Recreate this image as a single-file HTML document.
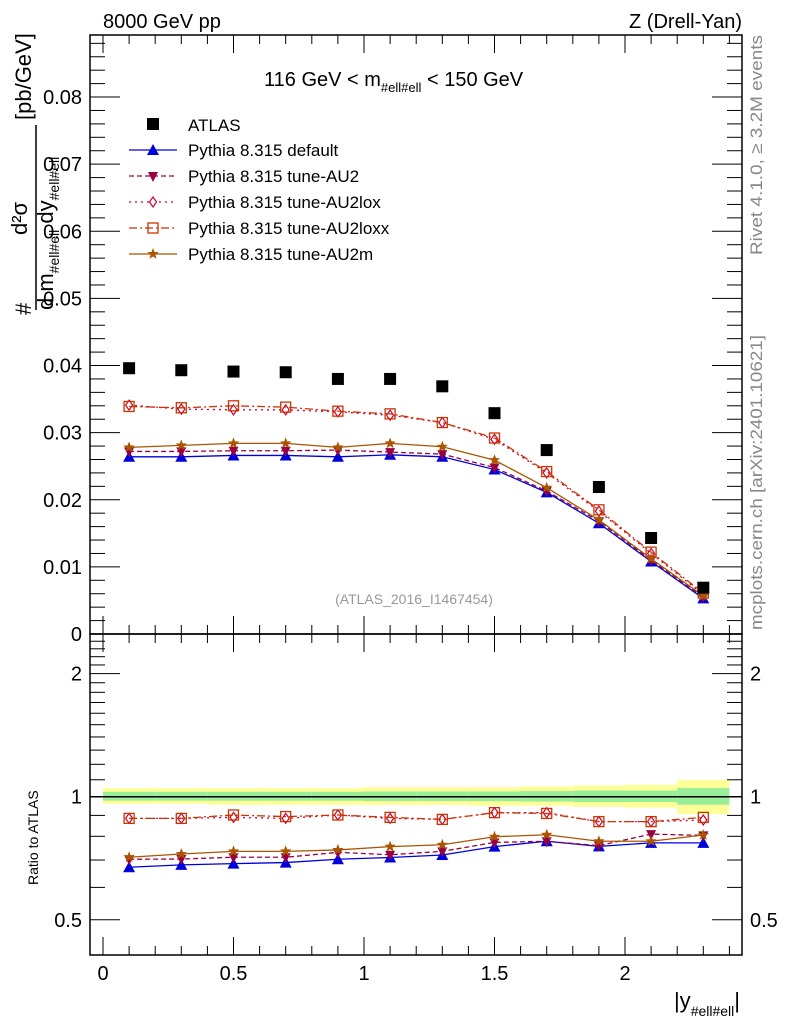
<!DOCTYPE html>
<html><head><meta charset="utf-8"><style>
body{margin:0;background:#fff;}
svg{display:block;font-family:"Liberation Sans",sans-serif;}
</style></head><body>
<svg id="chart" width="786" height="1024" viewBox="0 0 786 1024">
<rect width="786" height="1024" fill="#fff"/>
<g id="bands"></g>
<g id="axes"></g>
<g id="series"></g>
<text x="103" y="28" font-size="20">8000 GeV pp</text>
<text x="742" y="28" font-size="20" text-anchor="end">Z (Drell-Yan)</text>
<text x="264" y="86" font-size="20">116 GeV &lt; m<tspan font-size="13" dy="6">#ell#ell</tspan><tspan dy="-6"> &lt; 150 GeV</tspan></text>
<text x="414" y="604" font-size="14" fill="#999" text-anchor="middle">(ATLAS_2016_I1467454)</text>
<text transform="translate(762,255) rotate(-90)" font-size="17" fill="#888" textLength="220" lengthAdjust="spacingAndGlyphs">Rivet 4.1.0, ≥ 3.2M events</text>
<text transform="translate(762,630) rotate(-90)" font-size="17" fill="#888" textLength="295" lengthAdjust="spacingAndGlyphs">mcplots.cern.ch [arXiv:2401.10621]</text>
<g>
<text transform="translate(31,315) rotate(-90)" font-size="22">#</text>
<text transform="translate(27,235) rotate(-90)" font-size="22">d²σ</text>
<line x1="36" y1="125" x2="36" y2="310" stroke="#000" stroke-width="1.5"/>
<text transform="translate(53,310) rotate(-90)" font-size="22">d m<tspan font-size="14" dy="6">#ell#ell</tspan><tspan dy="-6"> dy</tspan><tspan font-size="14" dy="6">#ell#ell</tspan></text>
<text transform="translate(31,120) rotate(-90)" font-size="22">[pb/GeV]</text>
</g>
<text transform="translate(38,885) rotate(-90)" font-size="14">Ratio to ATLAS</text>
<text x="740" y="1008" font-size="22" text-anchor="end">|y<tspan font-size="14" dy="8">#ell#ell</tspan><tspan dy="-8">|</tspan></text>
<g id="legend"></g>
</svg>
<script>
const xCenters=[0.1,0.3,0.5,0.7,0.9,1.1,1.3,1.5,1.7,1.9,2.1,2.3];
const atlas=[0.0396,0.0393,0.0391,0.0390,0.0380,0.0380,0.0369,0.0329,0.0274,0.0219,0.0143,0.0069];
const pDefault=[0.0264,0.0264,0.0266,0.0266,0.0264,0.0267,0.0264,0.0245,0.0211,0.0165,0.0108,0.0053];
const pAU2=[0.0272,0.0272,0.0273,0.0273,0.0274,0.0271,0.0268,0.0248,0.0213,0.0168,0.0110,0.0055];
const pAU2lox=[0.0341,0.0335,0.0334,0.0334,0.0331,0.0326,0.0315,0.0290,0.0240,0.0183,0.0120,0.0059];
const pAU2loxx=[0.0339,0.0337,0.0340,0.0338,0.0332,0.0328,0.0315,0.0292,0.0242,0.0185,0.0122,0.0061];
const pAU2m=[0.0278,0.0281,0.0284,0.0284,0.0278,0.0284,0.0279,0.0259,0.0218,0.0170,0.0112,0.0057];
const rDefault=[0.672,0.681,0.686,0.690,0.703,0.710,0.720,0.755,0.778,0.756,0.771,0.771];
const rAU2=[0.703,0.704,0.711,0.711,0.731,0.721,0.735,0.773,0.778,0.759,0.810,0.804];
const rAU2lox=[0.885,0.885,0.890,0.885,0.902,0.885,0.880,0.914,0.914,0.869,0.869,0.877];
const rAU2loxx=[0.885,0.885,0.902,0.894,0.902,0.890,0.880,0.914,0.910,0.869,0.869,0.890];
const rAU2m=[0.711,0.724,0.735,0.735,0.741,0.755,0.763,0.798,0.807,0.778,0.778,0.806];
const yellowUp=[1.05,1.05,1.05,1.05,1.05,1.055,1.055,1.055,1.06,1.065,1.07,1.10];
const yellowDn=[0.96,0.96,0.955,0.955,0.955,0.955,0.955,0.95,0.95,0.945,0.94,0.907];
const greenUp=[1.028,1.028,1.028,1.028,1.028,1.03,1.03,1.03,1.032,1.035,1.035,1.05];
const greenDn=[0.978,0.978,0.978,0.978,0.978,0.976,0.976,0.975,0.973,0.97,0.97,0.956];
const xTicks=[0,0.5,1,1.5,2];
const xTickLabels=["0","0.5","1","1.5","2"];
const yTicks=[0,0.01,0.02,0.03,0.04,0.05,0.06,0.07,0.08];
const yTickLabels=["0","0.01","0.02","0.03","0.04","0.05","0.06","0.07","0.08"];
const rTicks=[0.5,1,2];
const rTickLabels=["0.5","1","2"];

const NS="http://www.w3.org/2000/svg";
const L=90,R=742,T=35,MB=634,RB=955;
const X=v=>103+(v)*261;
const Y=v=>634-v*6712;
const RMIN=Math.log10(0.41),RMAX=Math.log10(2.5);
const RY=v=>RB-(Math.log10(v)-RMIN)/(RMAX-RMIN)*(RB-MB);
function el(tag,attrs,parent){const e=document.createElementNS(NS,tag);for(const k in attrs)e.setAttribute(k,attrs[k]);parent.appendChild(e);return e;}
const axes=document.getElementById('axes'),bands=document.getElementById('bands'),ser=document.getElementById('series');

xCenters.forEach((c,i)=>{
  const x0=X(c-0.1),x1=X(c+0.1);
  const y=el('rect',{x:x0,y:RY(yellowUp[i]),width:x1-x0,height:RY(yellowDn[i])-RY(yellowUp[i]),fill:'#ffff99'},bands);
  
  
  const g=el('rect',{x:x0,y:RY(greenUp[i]),width:x1-x0,height:RY(greenDn[i])-RY(greenUp[i]),fill:'#99ee99'},bands);
  
  
});
const one=el('line',{x1:L,x2:R,y1:RY(1),y2:RY(1),stroke:'#000','stroke-width':1.5},bands);



const f1=el('rect',{x:L,y:T,width:R-L,height:MB-T,fill:'none',stroke:'#000','stroke-width':1.5},axes);


const f2=el('rect',{x:L,y:MB,width:R-L,height:RB-MB,fill:'none',stroke:'#000','stroke-width':1.5},axes);



for(let v=0;v<=2.45;v+=0.1){
  const major=Math.abs(v/0.5-Math.round(v/0.5))<1e-6;const len=major?18:9;
  [[MB,-1],[T,1],[RB,-1],[MB,1]].forEach(([y,d])=>{el('line',{x1:X(v),x2:X(v),y1:y,y2:y+d*len,stroke:'#000'},axes);});
}
xTicks.forEach((v,i)=>{const t=el('text',{x:X(v),y:980,'font-size':20,'text-anchor':'middle'},axes);t.textContent=xTickLabels[i];

});
for(let v=0;v<=0.0885;v+=0.002){
  const major=Math.abs(v/0.01-Math.round(v/0.01))<1e-6;const len=major?30:15;
  el('line',{x1:L,x2:L+len,y1:Y(v),y2:Y(v),stroke:'#000'},axes);
  el('line',{x1:R,x2:R-len,y1:Y(v),y2:Y(v),stroke:'#000'},axes);
}
yTicks.forEach((v,i)=>{const t=el('text',{x:82,y:Y(v)+7,'font-size':20,'text-anchor':'end'},axes);t.textContent=yTickLabels[i];

});
[0.5,0.6,0.7,0.8,0.9,1,1.1,1.2,1.3,1.4,1.5,1.6,1.7,1.8,1.9,2,2.1,2.2,2.3,2.4].forEach(v=>{
  const major=rTicks.includes(v);const len=major?30:15;
  el('line',{x1:L,x2:L+len,y1:RY(v),y2:RY(v),stroke:'#000'},axes);
  el('line',{x1:R,x2:R-len,y1:RY(v),y2:RY(v),stroke:'#000'},axes);
});
rTicks.forEach((v,i)=>{
  const t=el('text',{x:82,y:RY(v)+7,'font-size':20,'text-anchor':'end'},axes);t.textContent=rTickLabels[i];
  
  
  const t2=el('text',{x:750,y:RY(v)+7,'font-size':20},axes);t2.textContent=rTickLabels[i];
  
  
});

function marker(type,x,y,color,parent){
  if(type==='square')return el('rect',{x:x-6,y:y-6,width:12,height:12,fill:'#000'},parent);
  if(type==='tri')return el('polygon',{points:`${x},${y-6} ${x-6},${y+5} ${x+6},${y+5}`,fill:color},parent);
  if(type==='itri')return el('polygon',{points:`${x},${y+6} ${x-5},${y-4} ${x+5},${y-4}`,fill:color},parent);
  if(type==='diamond')return el('polygon',{points:`${x},${y-5} ${x+3.5},${y} ${x},${y+5} ${x-3.5},${y}`,fill:'#fff',stroke:color,'stroke-width':1.2},parent);
  if(type==='osq')return el('rect',{x:x-5,y:y-5,width:10,height:10,fill:'none',stroke:color,'stroke-width':1.3},parent);
  if(type==='star'){let p=[];for(let k=0;k<10;k++){const r=k%2?2.5:6,a=-Math.PI/2+k*Math.PI/5;p.push((x+r*Math.cos(a)).toFixed(1)+','+(y+r*Math.sin(a)).toFixed(1));}return el('polygon',{points:p.join(' '),fill:color},parent);}
}
const defs=[
 {name:'pythia-default',main:pDefault,ratio:rDefault,color:'#0000dd',dash:'',m:'tri',label:'Pythia 8.315 default'},
 {name:'pythia-au2',main:pAU2,ratio:rAU2,color:'#990044',dash:'5,3',m:'itri',label:'Pythia 8.315 tune-AU2'},
 {name:'pythia-au2lox',main:pAU2lox,ratio:rAU2lox,color:'#cc0033',dash:'2,4',m:'diamond',label:'Pythia 8.315 tune-AU2lox'},
 {name:'pythia-au2loxx',main:pAU2loxx,ratio:rAU2loxx,color:'#cc3300',dash:'8,3,2,3',m:'osq',label:'Pythia 8.315 tune-AU2loxx'},
 {name:'pythia-au2m',main:pAU2m,ratio:rAU2m,color:'#aa5500',dash:'',m:'star',label:'Pythia 8.315 tune-AU2m'}
];
defs.forEach(d=>{
  [[d.main,Y,'main'],[d.ratio,RY,'ratio']].forEach(([arr,fy,pn])=>{
    const pts=xCenters.map((c,i)=>X(c)+','+fy(arr[i])).join(' ');
    const pl=el('polyline',{points:pts,fill:'none',stroke:d.color,'stroke-width':1.3,'stroke-dasharray':d.dash},ser);
    
    
    xCenters.forEach((c,i)=>{const mk=marker(d.m,X(c),fy(arr[i]),d.color,ser);
      
      });
  });
});
xCenters.forEach((c,i)=>{const mk=marker('square',X(c),Y(atlas[i]),'#000',ser);
  
  });

const lg=document.getElementById('legend');
marker('square',153,124,'#000',lg);
const lt=el('text',{x:188,y:131,'font-size':17},lg);lt.textContent='ATLAS';


defs.forEach((d,i)=>{
  const y=150+i*26;
  el('line',{x1:129,x2:177,y1:y,y2:y,stroke:d.color,'stroke-width':1.3,'stroke-dasharray':d.dash},lg);
  marker(d.m,153,y,d.color,lg);
  const t=el('text',{x:188,y:y+6,'font-size':17},lg);t.textContent=d.label;
  
  
});
</script>
</body></html>
